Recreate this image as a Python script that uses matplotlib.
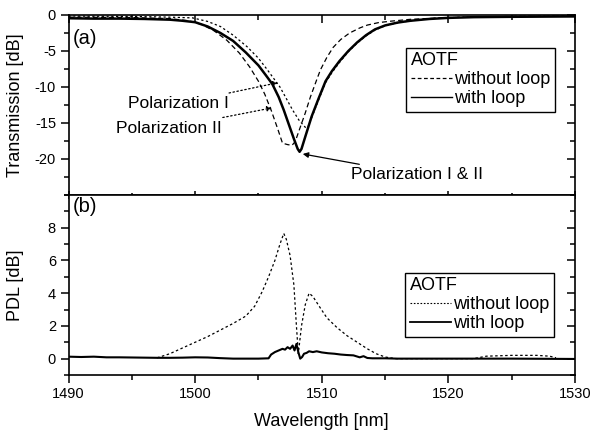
import matplotlib
matplotlib.use("Agg")
import matplotlib.pyplot as plt
from matplotlib.ticker import MultipleLocator
from matplotlib.lines import Line2D

plt.rcParams['font.family'] = ['Liberation Sans', 'DejaVu Sans']
plt.rcParams['axes.unicode_minus'] = False

# ---------------- data ----------------
# (a) Transmission, with loop (solid)
wl_loop = [1490, 1492, 1494, 1496, 1497, 1498, 1499, 1500, 1501, 1502, 1503, 1504, 1505,
           1505.6, 1506.1, 1506.6, 1507.0, 1507.4, 1507.8, 1508.1, 1508.25,
           1508.4, 1508.7, 1509.2, 1509.75, 1510.3, 1510.8, 1511.4, 1512.1, 1512.8,
           1513.5, 1514.2, 1515, 1516, 1517, 1518.5, 1520, 1522, 1525, 1530]
tr_loop = [-0.45, -0.5, -0.5, -0.55, -0.6, -0.65, -0.8, -1.0, -1.6, -2.5, -3.6, -5.2, -7.0,
           -8.4, -9.6, -11.4, -13.2, -15.2, -17.2, -18.6, -19.0,
           -18.6, -16.9, -14.1, -11.6, -9.2, -7.8, -6.4, -5.0, -3.8,
           -2.8, -2.0, -1.45, -1.05, -0.8, -0.55, -0.4, -0.3, -0.25, -0.2]

# (a) Transmission, without loop, polarization II (dashed)
wl_pol2 = [1490, 1495, 1498, 1499.5, 1500.5, 1501.5, 1502.5, 1503.5, 1504.3, 1505, 1505.5,
           1506, 1506.5, 1506.9, 1507.3, 1507.65, 1507.9, 1508.3, 1508.7, 1509.1, 1509.6,
           1509.9, 1510.4, 1510.9, 1511.5, 1512.2, 1513, 1513.6, 1514.5, 1515.5, 1517,
           1520, 1525, 1530]
tr_pol2 = [-0.3, -0.35, -0.5, -0.8, -1.3, -2.2, -3.5, -5.3, -7.2, -9.2, -11.0,
           -13.2, -15.7, -17.8, -18.0, -18.1, -17.6, -15.6, -13.6, -11.4, -9.0,
           -7.6, -5.9, -4.5, -3.4, -2.5, -1.8, -1.4, -1.05, -0.85, -0.6,
           -0.35, -0.2, -0.15]

# (a) Transmission, without loop, polarization I (short dashes)
wl_pol1 = [1490, 1495, 1498, 1499.8, 1501, 1502, 1503, 1504.1, 1505, 1505.7, 1506.2, 1506.7,
           1507.2, 1507.7, 1508.2, 1508.7, 1508.9, 1509.2, 1509.75, 1510.3, 1510.8, 1511.4,
           1512.1, 1512.8, 1513.5, 1514.2, 1515, 1516, 1517, 1518.5, 1520, 1525, 1530]
tr_pol1 = [-0.15, -0.2, -0.3, -0.4, -0.9, -1.6, -2.8, -4.4, -6.0, -7.6, -8.8, -10.0,
           -11.6, -13.2, -14.6, -15.6, -15.6, -14.3, -11.8, -9.4, -8.0, -6.6,
           -5.1, -3.9, -2.9, -2.1, -1.5, -1.1, -0.8, -0.5, -0.35, -0.2, -0.15]

# (b) PDL without loop (dotted)
wl_pdl_wo = [1497, 1498, 1499, 1500, 1501, 1502, 1503, 1504, 1504.7, 1505.3, 1505.8, 1506.3,
             1506.7, 1507.0, 1507.2, 1507.5, 1507.8, 1508.0, 1508.15, 1508.4, 1508.7, 1509.0,
             1509.3, 1509.8, 1510.4, 1511.2, 1512, 1512.8, 1513.6, 1514.3, 1515, 1515.8,
             1518, 1522, 1523, 1525, 1527, 1528, 1528.5]
pdl_wo = [0.05, 0.3, 0.65, 1.0, 1.35, 1.75, 2.15, 2.6, 3.2, 4.1, 5.0, 6.0,
          7.0, 7.65, 7.3, 6.3, 4.5, 2.0, 0.3, 2.0, 3.3, 4.0,
          3.8, 3.2, 2.5, 1.9, 1.4, 1.0, 0.6, 0.3, 0.1, 0.0,
          0.0, 0.0, 0.15, 0.2, 0.2, 0.15, 0.05]

# (b) PDL with loop (solid)
wl_pdl_w = [1490, 1491, 1492, 1493, 1494, 1495, 1496, 1497, 1498, 1499, 1500, 1501, 1502,
            1503, 1504, 1505, 1505.8, 1506.0, 1506.3, 1506.6, 1506.9, 1507.1, 1507.3, 1507.5,
            1507.7, 1507.85, 1508.0, 1508.15, 1508.3, 1508.45, 1508.6, 1508.8, 1509.0, 1509.3,
            1509.6, 1510, 1510.5, 1511, 1511.5, 1512, 1512.5, 1513, 1513.3, 1513.6, 1514,
            1515, 1516, 1520, 1525, 1530]
pdl_w = [0.12, 0.1, 0.12, 0.08, 0.08, 0.07, 0.06, 0.05, 0.05, 0.06, 0.08, 0.07, 0.03,
         0.0, 0.0, 0.0, 0.02, 0.25, 0.4, 0.5, 0.6, 0.55, 0.7, 0.6,
         0.8, 0.5, 0.9, 0.4, 0.0, 0.1, 0.3, 0.35, 0.45, 0.4,
         0.45, 0.38, 0.33, 0.3, 0.25, 0.22, 0.2, 0.08, 0.15, 0.04, 0.02,
         0.02, 0.0, 0.0, 0.0, -0.02]

xticks = [1490, 1500, 1510, 1520, 1530]
yticks_a = [0, -5, -10, -15, -20]
yticks_b = [0, 2, 4, 6, 8]

# ---------------- figure ----------------
fig = plt.figure(figsize=(5.91, 4.34), dpi=100)
L, R = 68.5 / 591, 575 / 591
ax1 = fig.add_axes([L, 1 - 195 / 434, R - L, 180 / 434])
ax2 = fig.add_axes([L, 1 - 375 / 434, R - L, 180 / 434], sharex=ax1)

ax1.plot(wl_pol2, tr_pol2, color='black', lw=0.9, dashes=(4, 2.5))
ax1.plot(wl_pol1, tr_pol1, color='black', lw=0.9, dashes=(1.8, 2.0))
ax1.plot(wl_loop, tr_loop, color='black', lw=1.8)

ax2.plot(wl_pdl_wo, pdl_wo, color='black', lw=0.9, dashes=(2.0, 2.0))
ax2.plot(wl_pdl_w, pdl_w, color='black', lw=1.5)

ax1.set_xlim(1490, 1530)
ax1.set_ylim(-25, 0)
ax2.set_ylim(-1, 10)

tick_fs = 10.5
for ax in (ax1, ax2):
    for s in ax.spines.values():
        s.set_linewidth(1.2)
    ax.xaxis.set_major_locator(MultipleLocator(10))
    ax.xaxis.set_minor_locator(MultipleLocator(5))
    ax.tick_params(axis='both', which='both', width=1.1, labelsize=tick_fs)
    ax.tick_params(axis='both', which='major', length=5.5)
    ax.tick_params(axis='both', which='minor', length=3.5)
    ax.tick_params(axis='y', which='both', left=True, right=True, labelright=False)

ax1.set_yticks(yticks_a)
ax1.yaxis.set_minor_locator(MultipleLocator(2.5))
ax2.set_yticks(yticks_b)
ax2.yaxis.set_minor_locator(MultipleLocator(1))
ax2.set_xticks(xticks)

# tick directions
ax1.tick_params(axis='x', which='both', top=True, bottom=True, labelbottom=False,
                direction='inout')
ax2.tick_params(axis='x', which='both', top=False, bottom=True, direction='out')
ax1.tick_params(axis='y', which='both', direction='out')
ax2.tick_params(axis='y', which='both', direction='out')
for ax in (ax1, ax2):
    for t in ax.yaxis.get_major_ticks() + ax.yaxis.get_minor_ticks():
        t.tick2line.set_marker(matplotlib.lines.TICKLEFT)
for t in ax1.xaxis.get_major_ticks() + ax1.xaxis.get_minor_ticks():
    t.tick2line.set_marker(matplotlib.lines.TICKDOWN)

lab_fs = 13
ax1.set_ylabel('Transmission [dB]', fontsize=lab_fs)
ax2.set_ylabel('PDL [dB]', fontsize=lab_fs)
ax2.set_xlabel('Wavelength [nm]', fontsize=lab_fs, labelpad=8)
ax1.yaxis.set_label_coords(-0.088, 0.5)
ax2.yaxis.set_label_coords(-0.088, 0.5)

ax1.text(0.009, 0.87, '(a)', transform=ax1.transAxes, fontsize=14.5, va='center', ha='left')
ax2.text(0.009, 0.935, '(b)', transform=ax2.transAxes, fontsize=14.5, va='center', ha='left')

# legends
h_wo_a = Line2D([], [], color='black', lw=0.9, dashes=(3, 2))
h_w_a = Line2D([], [], color='black', lw=1.0)
leg1 = ax1.legend([h_wo_a, h_w_a], ['without loop', 'with loop'], title='AOTF',
                  loc='upper right', bbox_to_anchor=(0.9605, 0.817), borderaxespad=0,
                  fontsize=13, title_fontsize=13, fancybox=False, framealpha=1,
                  edgecolor='black', handlelength=2.3, handletextpad=0.1,
                  labelspacing=0.1, borderpad=0.25, alignment='left')
leg1.get_frame().set_linewidth(1.0)

h_wo_b = Line2D([], [], color='black', lw=0.8, dashes=(1.5, 1.5))
h_w_b = Line2D([], [], color='black', lw=1.3)
leg2 = ax2.legend([h_wo_b, h_w_b], ['without loop', 'with loop'], title='AOTF',
                  loc='upper right', bbox_to_anchor=(0.9585, 0.567), borderaxespad=0,
                  fontsize=13, title_fontsize=13, fancybox=False, framealpha=1,
                  edgecolor='black', handlelength=2.3, handletextpad=0.1,
                  labelspacing=0.1, borderpad=0.25, alignment='left')
leg2.get_frame().set_linewidth(1.0)

# annotations
ann_fs = 12.5
ax1.annotate('Polarization I', xy=(1506.55, -9.4), xytext=(1502.7, -12.3),
             fontsize=ann_fs, ha='right', va='center',
             arrowprops=dict(arrowstyle='-|>', color='black', lw=0.9, linestyle=(0, (1.2, 2)),
                             mutation_scale=7, shrinkA=1, shrinkB=0))
ax1.annotate('Polarization II', xy=(1506.07, -12.9), xytext=(1502.1, -15.7),
             fontsize=ann_fs, ha='right', va='center',
             arrowprops=dict(arrowstyle='-|>', color='black', lw=0.9, linestyle=(0, (1.2, 2)),
                             mutation_scale=7, shrinkA=1, shrinkB=0))
ax1.annotate('Polarization I & II', xy=(1508.5, -19.3), xytext=(1512.3, -22.2),
             fontsize=ann_fs, ha='left', va='center',
             arrowprops=dict(arrowstyle='-|>', color='black', lw=0.9,
                             mutation_scale=8, shrinkA=1, shrinkB=0))

fig.savefig('out.png', dpi=100)
